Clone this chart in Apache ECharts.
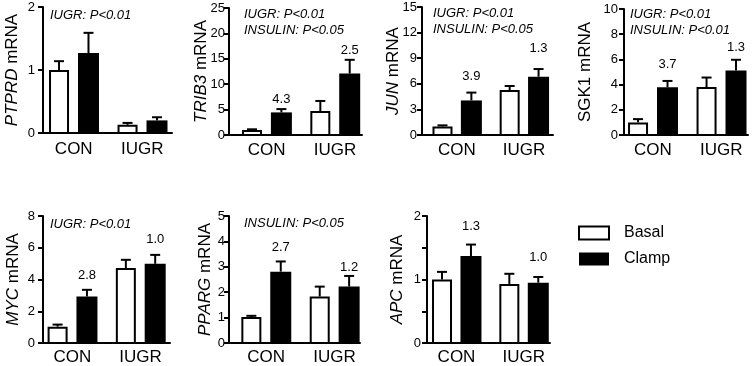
<!DOCTYPE html>
<html><head><meta charset="utf-8">
<script src="https://cdn.jsdelivr.net/npm/echarts@6/dist/echarts.min.js"></script>
<style>html,body{margin:0;padding:0;background:#fff}#c{width:752px;height:366px}</style>
</head><body><div id="c"></div>
<script>
// ---------- data ----------
const groups = ['CON', 'IUGR'];
const seriesNames = ['Basal', 'Clamp'];

const ptprdBasal = [1.00, 0.13], ptprdBasalSem = [0.14, 0.03];
const ptprdClamp = [1.27, 0.20], ptprdClampSem = [0.32, 0.05];

const trib3Basal = [1.00, 4.70], trib3BasalSem = [0.12, 2.00];
const trib3Clamp = [4.45, 12.10], trib3ClampSem = [0.65, 2.70];
const trib3Fold = ['4.3', '2.5'], trib3FoldAt = [6.3, 15.9];

const junBasal = [1.00, 5.27], junBasalSem = [0.13, 0.47];
const junClamp = [4.05, 6.83], junClampSem = [0.92, 0.90];
const junFold = ['3.9', '1.3'], junFoldAt = [6.45, 9.73];

const sgk1Basal = [1.00, 3.80], sgk1BasalSem = [0.26, 0.76];
const sgk1Clamp = [3.79, 5.12], sgk1ClampSem = [0.50, 0.85];
const sgk1Fold = ['3.7', '1.3'], sgk1FoldAt = [5.25, 6.63];

const mycBasal = [1.03, 4.72], mycBasalSem = [0.13, 0.52];
const mycClamp = [2.93, 4.99], mycClampSem = [0.42, 0.56];
const mycFold = ['2.8', '1.0'], mycFoldAt = [4.02, 6.29];

const ppargBasal = [1.02, 1.83], ppargBasalSem = [0.05, 0.39];
const ppargClamp = [2.81, 2.22], ppargClampSem = [0.40, 0.42];
const ppargFold = ['2.7', '1.2'], ppargFoldAt = [3.62, 2.81];

const apcBasal = [1.00, 0.93], apcBasalSem = [0.12, 0.16];
const apcClamp = [1.37, 0.95], apcClampSem = [0.18, 0.09];
const apcFold = ['1.3', '1.0'], apcFoldAt = [1.78, 1.28];

const yMax = [2, 25, 15, 10, 8, 5, 2];
const yStep = [1, 5, 3, 2, 2, 1, 1];
const geneNames = ['PTPRD', 'TRIB3', 'JUN', 'SGK1', 'MYC', 'PPARG', 'APC'];
const stats = [
  'IUGR: P<0.01',
  'IUGR: P<0.01\nINSULIN: P<0.05',
  'IUGR: P<0.01\nINSULIN: P<0.05',
  'IUGR: P<0.01\nINSULIN: P<0.01',
  'IUGR: P<0.01',
  'INSULIN: P<0.05',
  ''
];

const panelData = [
  {basal: ptprdBasal, basalSem: ptprdBasalSem, clamp: ptprdClamp, clampSem: ptprdClampSem, fold: null, foldAt: null},
  {basal: trib3Basal, basalSem: trib3BasalSem, clamp: trib3Clamp, clampSem: trib3ClampSem, fold: trib3Fold, foldAt: trib3FoldAt},
  {basal: junBasal, basalSem: junBasalSem, clamp: junClamp, clampSem: junClampSem, fold: junFold, foldAt: junFoldAt},
  {basal: sgk1Basal, basalSem: sgk1BasalSem, clamp: sgk1Clamp, clampSem: sgk1ClampSem, fold: sgk1Fold, foldAt: sgk1FoldAt},
  {basal: mycBasal, basalSem: mycBasalSem, clamp: mycClamp, clampSem: mycClampSem, fold: mycFold, foldAt: mycFoldAt},
  {basal: ppargBasal, basalSem: ppargBasalSem, clamp: ppargClamp, clampSem: ppargClampSem, fold: ppargFold, foldAt: ppargFoldAt},
  {basal: apcBasal, basalSem: apcBasalSem, clamp: apcClamp, clampSem: apcClampSem, fold: apcFold, foldAt: apcFoldAt}
];

// ---------- layout (positions / styles) ----------
const FONT = '"Liberation Sans", Arial, Helvetica, sans-serif';
const layout = [
  {left: 43,  top: 7,   width: 129, height: 126, xMin: 0.551, xMax: 2.434, nameGap: 22, italic: true,  tickMargin: 8, catMargin: 8, statX: 50,  statY: 7},
  {left: 229, top: 8,   width: 133, height: 127, xMin: 0.448, xMax: 2.395, nameGap: 19, italic: true,  tickMargin: 4, catMargin: 7, statX: 244, statY: 6},
  {left: 422, top: 7,   width: 131, height: 128, xMin: 0.480, xMax: 2.430, nameGap: 20, italic: true,  tickMargin: 5, catMargin: 7, statX: 433, statY: 5},
  {left: 624, top: 9,   width: 124, height: 126, xMin: 0.580, xMax: 2.390, nameGap: 30, italic: false, tickMargin: 6, catMargin: 7, statX: 630, statY: 6},
  {left: 43,  top: 216, width: 127, height: 127, xMin: 0.571, xMax: 2.432, nameGap: 21, italic: true,  tickMargin: 8, catMargin: 6, statX: 50,  statY: 216},
  {left: 229, top: 216, width: 131, height: 127, xMin: 0.458, xMax: 2.374, nameGap: 15, italic: true,  tickMargin: 4, catMargin: 6, statX: 244, statY: 215},
  {left: 427, top: 216, width: 123, height: 127, xMin: 0.562, xMax: 2.389, nameGap: 21, italic: true,  tickMargin: 6, catMargin: 6, statX: 0,   statY: 0}
];
const BAR_OFF = 0.215;
const LABEL_LIFT = 4;

function makeRender(kind, labels) {
  return function (params, api) {
    const x = api.value(0), m = api.value(1), s = api.value(2);
    const base = api.coord([x, 0]);
    const top = api.coord([x, m]);
    const et = api.coord([x, m + s]);
    const cx = base[0];
    const children = [];
    if (kind === 'basal') {
      children.push({type: 'rect', shape: {x: cx - 9, y: top[1] + 1, width: 18, height: base[1] - top[1] - 1},
        style: {fill: '#fff', stroke: '#000', lineWidth: 2}});
    } else {
      children.push({type: 'rect', shape: {x: cx - 10.5, y: top[1], width: 21, height: base[1] - top[1]},
        style: {fill: '#000'}});
    }
    children.push({type: 'line', shape: {x1: cx, y1: top[1], x2: cx, y2: et[1]}, style: {stroke: '#000', lineWidth: 2}});
    children.push({type: 'line', shape: {x1: cx - 5, y1: et[1], x2: cx + 5, y2: et[1]}, style: {stroke: '#000', lineWidth: 2}});
    if (labels) {
      const p = api.coord([x, api.value(3)]);
      children.push({type: 'text', style: {text: labels[params.dataIndex], x: p[0], y: p[1] - LABEL_LIFT,
        align: 'center', verticalAlign: 'middle', fontSize: 13, fontFamily: FONT, fill: '#000'}});
    }
    return {type: 'group', children: children};
  };
}

const grid = [], xAxis = [], yAxis = [], series = [], title = [];
layout.forEach(function (L, i) {
  const D = panelData[i];
  grid.push({left: L.left, top: L.top, width: L.width, height: L.height, containLabel: false});
  xAxis.push({
    type: 'value', gridIndex: i, min: L.xMin, max: L.xMax,
    axisLine: {show: true, onZero: false, lineStyle: {color: '#000', width: 2}},
    axisTick: {show: false}, splitLine: {show: false},
    axisLabel: {customValues: [1, 2], formatter: function (v) { return groups[Math.round(v) - 1] || ''; },
      fontSize: 17, fontFamily: FONT, color: '#000', margin: L.catMargin}
  });
  const gene = geneNames[i];
  yAxis.push({
    type: 'value', gridIndex: i, min: 0, max: yMax[i], interval: yStep[i],
    name: L.italic ? '{i|' + gene + '} mRNA' : gene + ' mRNA',
    nameLocation: 'middle', nameGap: L.nameGap, nameMoveOverlap: false,
    nameTextStyle: {fontSize: 17, fontFamily: FONT, color: '#000',
      rich: {i: {fontSize: 17, fontFamily: FONT, color: '#000', fontStyle: 'italic'}}},
    axisLine: {show: true, onZero: false, lineStyle: {color: '#000', width: 2}},
    axisTick: {show: true, length: 5, lineStyle: {color: '#000', width: 2}},
    minorTick: {show: gene === 'APC', splitNumber: 2, length: 5, lineStyle: {color: '#000', width: 2}},
    splitLine: {show: false},
    axisLabel: {fontSize: 13, fontFamily: FONT, color: '#000', margin: L.tickMargin}
  });
  series.push({
    type: 'custom', name: seriesNames[0], xAxisIndex: i, yAxisIndex: i,
    encode: {x: 0, y: 1},
    renderItem: makeRender('basal', null),
    data: D.basal.map(function (v, k) { return [k + 1 - BAR_OFF, v, D.basalSem[k]]; })
  });
  series.push({
    type: 'custom', name: seriesNames[1], xAxisIndex: i, yAxisIndex: i,
    encode: {x: 0, y: 1},
    renderItem: makeRender('clamp', D.fold),
    data: D.clamp.map(function (v, k) { return [k + 1 + BAR_OFF, v, D.clampSem[k], D.foldAt ? D.foldAt[k] : 0]; })
  });
  if (stats[i]) {
    title.push({text: stats[i], left: L.statX, top: L.statY, padding: 0,
      textStyle: {fontSize: 13, fontStyle: 'italic', fontWeight: 'normal', fontFamily: FONT, color: '#000', lineHeight: 16}});
  }
});

const chart = echarts.init(document.getElementById('c'), null, {renderer: 'canvas'});
chart.setOption({
  animation: false,
  backgroundColor: '#fff',
  title: title,
  grid: grid, xAxis: xAxis, yAxis: yAxis, series: series,
  legend: {
    orient: 'vertical', left: 578, top: 225, padding: 0, itemWidth: 30, itemHeight: 13, itemGap: 10,
    selectedMode: false,
    textStyle: {fontSize: 16, fontFamily: FONT, color: '#000', padding: [0, 0, 0, 10]},
    data: [
      {name: 'Basal', icon: 'rect', itemStyle: {color: '#fff', borderColor: '#000', borderWidth: 2}},
      {name: 'Clamp', icon: 'rect', itemStyle: {color: '#000', borderColor: '#000', borderWidth: 0}}
    ]
  }
});
</script>
</body></html>
